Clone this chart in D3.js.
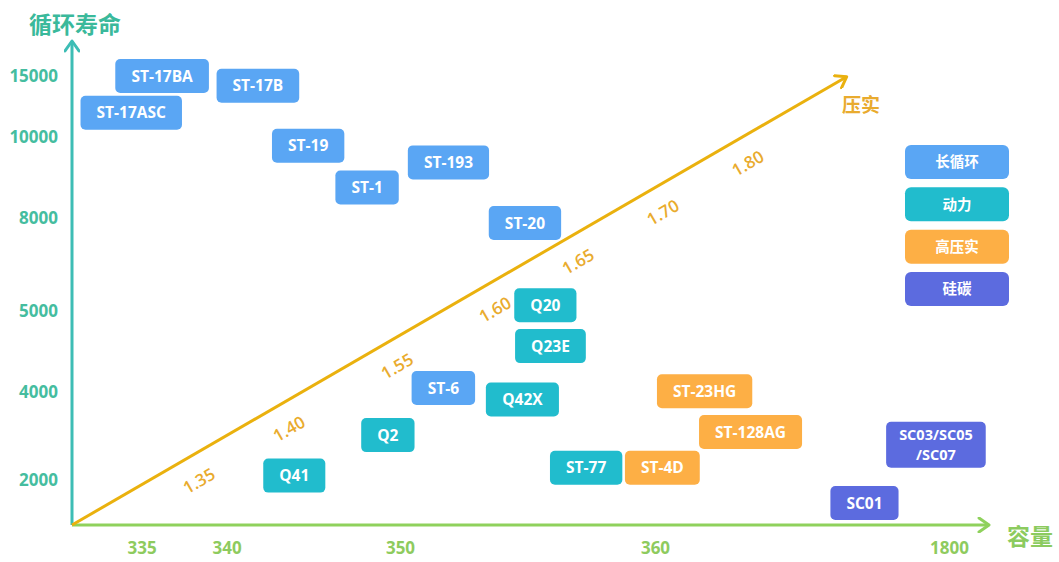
<!DOCTYPE html>
<html><head><meta charset="utf-8">
<script src="https://cdn.jsdelivr.net/npm/d3@7"></script>
<style>html,body{margin:0;padding:0;background:#fff;overflow:hidden}</style>
</head><body>
<svg id="chart" width="1059" height="562"></svg>
<script>
// ---------- data ----------
const categories = ["长循环", "动力", "高压实", "硅碳"];
const products = ["ST-17BA", "ST-17B", "ST-17ASC", "ST-19", "ST-1", "ST-193", "ST-20",
  "Q20", "Q23E", "ST-6", "Q42X", "Q2", "Q41", "ST-77", "ST-4D", "ST-23HG", "ST-128AG",
  "SC01", "SC03/SC05\n/SC07"];
const productType = ["长循环", "长循环", "长循环", "长循环", "长循环", "长循环", "长循环",
  "动力", "动力", "长循环", "动力", "动力", "动力", "动力", "高压实", "高压实", "高压实",
  "硅碳", "硅碳"];
const capacity = [336.2, 341.8, 334.4, 344.7, 348.1, 351.9, 354.9,
  355.7, 355.9, 351.7, 354.8, 349.3, 343.9, 357.3, 396, 603, 828,
  1386, 1736];
const cycleLife = [15000, 14200, 12000, 9790, 8760, 9380, 7850,
  5200, 4570, 4050, 3830, 3020, 2100, 2280, 2280, 4010, 3090,
  1490, 2800];
const xTicks = [335, 340, 350, 360, 1800];
const yTicks = [2000, 4000, 5000, 8000, 10000, 15000];
const compaction = [1.35, 1.40, 1.55, 1.60, 1.65, 1.70, 1.80];
const xTitle = "容量", yTitle = "循环寿命", cTitle = "压实";

// ---------- setup ----------
const svg = d3.select("#chart");
const FONT = "'Open Sans','Noto Sans CJK SC',sans-serif";
const CJK = "'Noto Sans CJK SC','Open Sans',sans-serif";

const x = d3.scaleLinear().domain([331, 335, 340, 350, 360, 1800]).range([72, 141.7, 226.7, 400, 655, 949]);
const y = d3.scaleLinear().domain([1000, 2000, 4000, 5000, 8000, 10000, 15000]).range([525, 480, 392, 311.5, 218.3, 137.3, 76]);
const color = d3.scaleOrdinal().domain(categories).range(["#5aa6f4", "#21bccd", "#fdaf45", "#5c6bdf"]);

const ox = x(331), oy = y(1000);
const yColor = "#3dbdb5", yText = "#45bd9f";
const xColor = "#8fd15c", xText = "#8ecb5e";
const cColor = "#eab10e", cText = "#e9ab2e";

// markers
const defs = svg.append("defs");
function chevron(id, col) {
  defs.append("marker").attr("id", id)
    .attr("viewBox", "-12 -8 14 16").attr("refX", 0).attr("refY", 0)
    .attr("markerWidth", 14).attr("markerHeight", 16)
    .attr("markerUnits", "userSpaceOnUse").attr("orient", "auto")
    .append("path").attr("d", "M-10,-7 L0,0 L-10,7")
    .attr("fill", "none").attr("stroke", col).attr("stroke-width", 3)
    .attr("stroke-linecap", "round").attr("stroke-linejoin", "round");
}
chevron("arrY", yColor); chevron("arrX", xColor); chevron("arrC", cColor);

// ---------- axes ----------
svg.append("line").attr("x1", ox).attr("y1", oy).attr("x2", ox).attr("y2", 41)
  .attr("stroke", yColor).attr("stroke-width", 3).attr("marker-end", "url(#arrY)");
svg.append("line").attr("x1", ox).attr("y1", oy).attr("x2", 989).attr("y2", oy)
  .attr("stroke", xColor).attr("stroke-width", 3).attr("marker-end", "url(#arrX)");

const gy = svg.append("g").attr("transform", `translate(${ox},0)`)
  .call(d3.axisLeft(y).tickValues(yTicks).tickSize(0).tickPadding(14).tickFormat(d3.format("d")));
gy.select(".domain").remove();
gy.selectAll("text").attr("fill", yText).style("font-family", FONT)
  .style("font-size", "17px").style("font-weight", 700);

const gx = svg.append("g").attr("transform", `translate(0,${oy})`)
  .call(d3.axisBottom(x).tickValues(xTicks).tickSize(0).tickPadding(17).tickFormat(d3.format("d")));
gx.select(".domain").remove();
gx.selectAll("text").attr("fill", xText).style("font-family", FONT)
  .style("font-size", "17px").style("font-weight", 700);

svg.append("text").attr("x", 75).attr("y", 23).attr("text-anchor", "middle")
  .attr("dominant-baseline", "central").attr("fill", "#3ab99b")
  .style("font-family", CJK).style("font-size", "23px").style("font-weight", 700).text(yTitle);
svg.append("text").attr("x", 1030).attr("y", 535).attr("text-anchor", "middle")
  .attr("dominant-baseline", "central").attr("fill", "#8ccb5f")
  .style("font-family", CJK).style("font-size", "23px").style("font-weight", 700).text(xTitle);

// ---------- compaction diagonal ----------
const tip = [846.7, 76.7];
const L = Math.hypot(tip[0] - ox, tip[1] - oy);
const ux = (tip[0] - ox) / L, uy = (tip[1] - oy) / L;
const ang = Math.atan2(uy, ux) * 180 / Math.PI;
const along = d3.scaleLinear().domain(compaction).range([132, 236, 361, 474, 570, 668, 766]);
svg.append("line").attr("x1", ox).attr("y1", oy).attr("x2", tip[0]).attr("y2", tip[1])
  .attr("stroke", cColor).attr("stroke-width", 3).attr("marker-end", "url(#arrC)");
const off = 25;
svg.append("g").selectAll("text").data(compaction).join("text")
  .attr("transform", d => {
    const t = along(d);
    const px = ox + ux * t + (-uy) * off, py = oy + uy * t + ux * off;
    return `translate(${px},${py}) rotate(${ang})`;
  })
  .attr("text-anchor", "middle").attr("dominant-baseline", "central")
  .attr("fill", cText).style("font-family", FONT).style("font-size", "17px").style("font-weight", 600)
  .text(d => d.toFixed(2));
svg.append("text").attr("x", 861).attr("y", 103).attr("text-anchor", "middle")
  .attr("dominant-baseline", "central").attr("fill", cText)
  .style("font-family", CJK).style("font-size", "19px").style("font-weight", 700).text(cTitle);

// ---------- product boxes ----------
const rows = products.map((p, i) => ({ name: p, type: productType[i], cap: capacity[i], life: cycleLife[i] }));
const boxes = svg.append("g").selectAll("g").data(rows).join("g")
  .attr("transform", d => `translate(${x(d.cap)},${y(d.life)})`);
const lineH = 20;
boxes.each(function (d) {
  const g = d3.select(this);
  const lines = d.name.split("\n");
  const rect = g.append("rect").attr("rx", 5).attr("ry", 5).attr("fill", color(d.type));
  const fs = lines.length > 1 ? 14.5 : 15.5;
  const txt = g.append("text").attr("text-anchor", "middle").attr("fill", "#fff")
    .style("font-family", FONT).style("font-size", fs + "px").style("font-weight", 700);
  lines.forEach((ln, k) => {
    txt.append("tspan").attr("x", 0)
      .attr("y", (k - (lines.length - 1) / 2) * lineH).attr("dy", "0.36em").text(ln);
  });
  const w = txt.node().getBBox().width + (lines.length > 1 ? 26 : 32);
  const h = 34 + (lines.length - 1) * 12;
  rect.attr("x", -w / 2).attr("y", -h / 2).attr("width", w).attr("height", h);
});

// ---------- legend ----------
const ly = d3.scalePoint().domain(categories).range([162, 289]);
const leg = svg.append("g").selectAll("g").data(categories).join("g")
  .attr("transform", d => `translate(957,${ly(d)})`);
leg.append("rect").attr("x", -52).attr("y", -17).attr("width", 104).attr("height", 34)
  .attr("rx", 6).attr("fill", d => color(d));
leg.append("text").attr("text-anchor", "middle").attr("dy", "0.36em").attr("fill", "#fff")
  .style("font-family", CJK).style("font-size", "14.5px").style("font-weight", 600).text(d => d);
</script>
</body></html>
